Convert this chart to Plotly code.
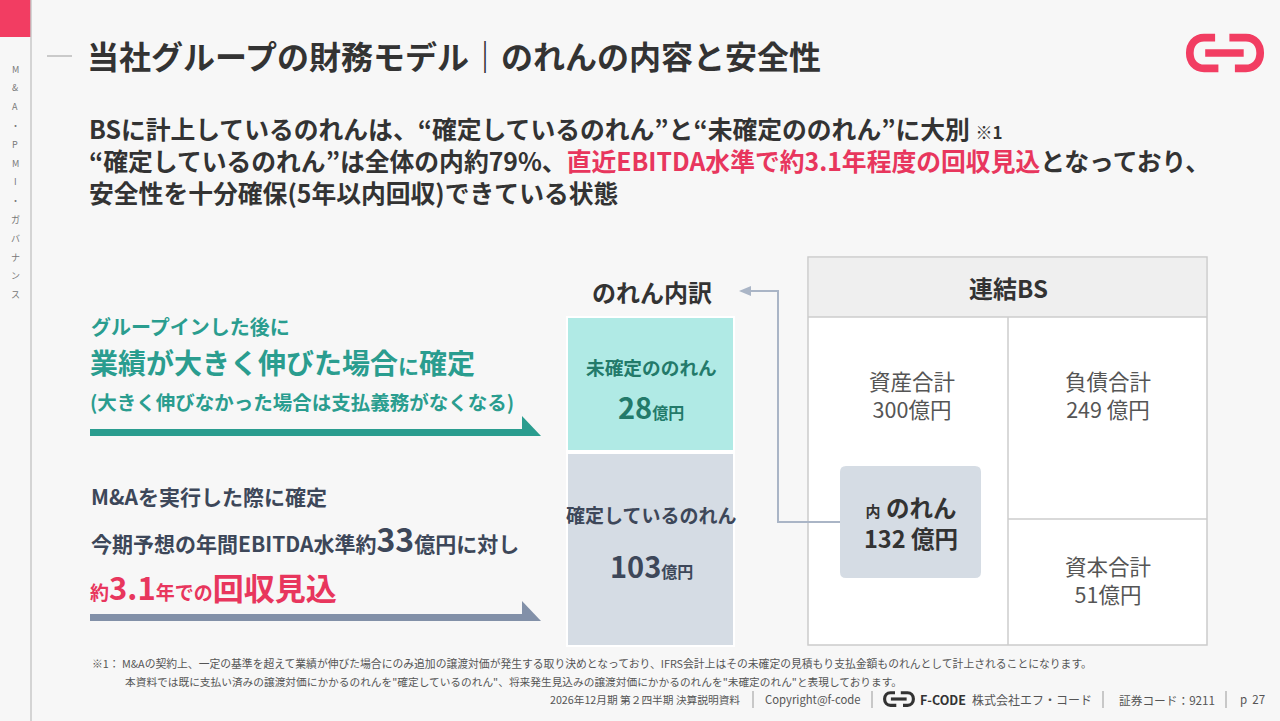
import plotly.graph_objects as go

# data shown on the slide
goodwill_labels = ["未確定ののれん", "確定しているのれん"]
goodwill_values = [28, 103]
bs_labels = ["資産合計", "負債合計", "資本合計"]
bs_values = [300, 249, 51]
goodwill_total = 132
ebitda_forecast = 33
payback_years = 3.1
fixed_share_pct = 79
sidebar_chars = ["M", "&", "A", "・", "P", "M", "I", "・", "ガ", "バ", "ナ", "ン", "ス"]

FONT = "Noto Sans CJK JP"
DARK = "#333333"
SLATE = "#3d4759"
TEAL = "#2a9d8f"
PINK = "#e8365d"
GRAY = "#555555"

fig = go.Figure()
shapes = []
annos = []


def text(x, y, s, size, color=DARK, anchor="left", vanchor="middle", align="center"):
    annos.append(dict(x=x, y=y, text=s, showarrow=False, xanchor=anchor, yanchor=vanchor,
                      font=dict(family=FONT, size=size, color=color), align=align))


def rect(x0, y0, x1, y1, fill, line=None, lw=0):
    shapes.append(dict(type="rect", x0=x0, y0=y0, x1=x1, y1=y1, fillcolor=fill,
                       line=dict(color=line or fill, width=lw), layer="below"))


def line(x0, y0, x1, y1, color, width):
    shapes.append(dict(type="line", x0=x0, y0=y0, x1=x1, y1=y1,
                       line=dict(color=color, width=width)))


def path(d, fill=None, color=None, width=0):
    s = dict(type="path", path=d, line=dict(color=color or "rgba(0,0,0,0)", width=width))
    if fill:
        s["fillcolor"] = fill
    shapes.append(s)


def logo(x, y, scale, color):
    # link-shaped logo, (x, y) = centre
    def p(dx, dy):
        return f"{x + dx * scale:.1f},{y + dy * scale:.1f}"
    w = 7 * scale
    path(f"M {p(-9, -14)} L {p(-19, -14)} C {p(-27, -14)} {p(-32, -8)} {p(-32, 0)} "
         f"C {p(-32, 8)} {p(-27, 14)} {p(-19, 14)} L {p(-6, 14)}", color=color, width=w)
    path(f"M {p(4, -14)} L {p(19, -14)} C {p(27, -14)} {p(32, -8)} {p(32, 0)} "
         f"C {p(32, 8)} {p(27, 14)} {p(19, 14)} L {p(9, 14)}", color=color, width=w)
    line(x - 18 * scale, y, x + 17 * scale, y, color, w)


# sidebar
line(31, 0, 31, 721, "#c8c8c8", 1.5)
rect(0, 0, 31, 37, "#f23d62")
for i, ch in enumerate(sidebar_chars):
    text(15, 69 + i * 18.8, ch, 9, "#777777", anchor="center")

# title
line(47, 56, 72, 56, "#bbbbbb", 1.5)
text(85, 55, "<b>当社グループの財務モデル｜のれんの内容と安全性</b>", 32, DARK)
logo(1225, 53, 1.1, "#f23d62")

# headline (three lines in one block)
text(87, 160,
     "<b>BSに計上しているのれんは、“確定しているのれん”と“未確定ののれん”に大別 "
     "<span style='font-size:17px'>※1</span><br>"
     f"“確定しているのれん”は全体の内約{fixed_share_pct}%、"
     f"<span style='color:{PINK}'>直近EBITDA水準で約{payback_years}年程度の回収見込</span>"
     "となっており、<br>"
     "安全性を十分確保(5年以内回収)できている状態</b>", 24.8, DARK, align="left")

# left explanations
text(89, 326, "<b>グループインした後に</b>", 20, TEAL)
text(88, 362, "<b>業績が大きく伸びた場合<span style='font-size:21px'>に</span>確定</b>", 28, TEAL)
text(88, 401, "<b>(大きく伸びなかった場合は支払義務がなくなる)</b>", 19.5, TEAL)
line(90, 432.5, 524, 432.5, TEAL, 7)
path("M 522,436 L 522,416 L 541,436 Z", fill=TEAL)

text(89, 496, "<b>M&Aを実行した際に確定</b>", 21, SLATE)
text(89, 538, f"<b>今期予想の年間EBITDA水準約<span style='font-size:32px'>{ebitda_forecast}</span>"
     "億円に対し</b>", 21, SLATE)
text(88, 586, f"<b>約<span style='font-size:31px'>{payback_years}</span>年での"
     "<span style='font-size:31px'>回収見込</span></b>", 19, PINK)
line(90, 617.5, 524, 617.5, "#8290a8", 7)
path("M 522,621 L 522,601 L 541,621 Z", fill="#8290a8")

# goodwill breakdown
text(652, 291, "<b>のれん内訳</b>", 24, DARK, anchor="center")
rect(566, 316, 735, 647, "#ffffff")
rect(568, 318, 733, 450, "#b0eae5")
rect(568, 454, 733, 645, "#d5dce4")
text(651, 366, f"<b>{goodwill_labels[0]}</b>", 18.7, "#237a6a", anchor="center")
text(651, 406, f"<b>{goodwill_values[0]}<span style='font-size:16px'>億円</span></b>", 29,
     "#237a6a", anchor="center")
text(651, 514, f"<b>{goodwill_labels[1]}</b>", 19, SLATE, anchor="center")
text(651, 565, f"<b>{goodwill_values[1]}<span style='font-size:16px'>億円</span></b>", 29,
     SLATE, anchor="center")

# connector arrow
path("M 840,522 L 778,522 L 778,291 L 748,291", color="#aab5c6", width=2)
path("M 739,291 L 751,286 L 751,296 Z", fill="#aab5c6")

# consolidated BS
rect(808, 257, 1207, 645, "#ffffff", "#cccccc", 1.5)
rect(809, 258, 1206, 317, "#efefef")
line(808, 317, 1207, 317, "#cccccc", 1.5)
line(1008, 317, 1008, 645, "#cccccc", 1.5)
line(1008, 519, 1207, 519, "#cccccc", 1.5)
text(1008, 287, "<b>連結BS</b>", 24, DARK, anchor="center")
text(912, 394, f"{bs_labels[0]}<br>{bs_values[0]}億円", 21.5, GRAY, anchor="center")
text(1108, 394, f"{bs_labels[1]}<br>{bs_values[1]} 億円", 21.5, GRAY, anchor="center")
text(1108, 579, f"{bs_labels[2]}<br>{bs_values[2]}億円", 21.5, GRAY, anchor="center")
shapes.append(dict(type="path", fillcolor="#d5dce4", line=dict(width=0),
                   path="M 846,466 L 975,466 Q 981,466 981,472 L 981,572 Q 981,578 975,578 "
                        "L 846,578 Q 840,578 840,572 L 840,472 Q 840,466 846,466 Z"))
text(911, 522, f"<b><span style='font-size:15px'>内</span> のれん<br>{goodwill_total} 億円</b>",
     23.5, DARK, anchor="center")

# footnotes
text(90, 663, "※1： M&Aの契約上、一定の基準を超えて業績が伸びた場合にのみ追加の譲渡対価が発生する取り決めとなっており、"
     "IFRS会計上はその未確定の見積もり支払金額ものれんとして計上されることになります。", 10.8, GRAY)
text(123, 681, "本資料では既に支払い済みの譲渡対価にかかるのれんを\"確定しているのれん\"、"
     "将来発生見込みの譲渡対価にかかるのれんを\"未確定のれん\"と表現しております。", 10.7, GRAY)

# footer
text(742, 699, "2026年12月期 第２四半期 決算説明資料", 10.7, GRAY, anchor="right")
for fx in [753, 872, 1103, 1226]:
    line(fx, 691, fx, 708, "#999999", 1)
text(763, 699, "Copyright@f-code", 11.3, GRAY)
logo(899, 699, 0.45, "#333333")
text(918, 699, "<b>F-CODE</b>", 12.5, "#333333")
text(970, 699, "株式会社エフ・コード", 12, GRAY)
text(1117, 699, "証券コード：9211", 11.7, GRAY)
text(1238, 699, "p  27", 11.5, GRAY)

fig.update_layout(
    width=1280, height=721,
    margin=dict(l=0, r=0, t=0, b=0),
    paper_bgcolor="#f7f7f7", plot_bgcolor="#f7f7f7",
    xaxis=dict(range=[0, 1280], visible=False, fixedrange=True),
    yaxis=dict(range=[721, 0], visible=False, fixedrange=True),
    shapes=shapes, annotations=annos, showlegend=False,
)
fig.write_html("out.html", config={"displayModeBar": False},
               post_script="document.body.style.margin='0';document.body.style.overflow='hidden';")
